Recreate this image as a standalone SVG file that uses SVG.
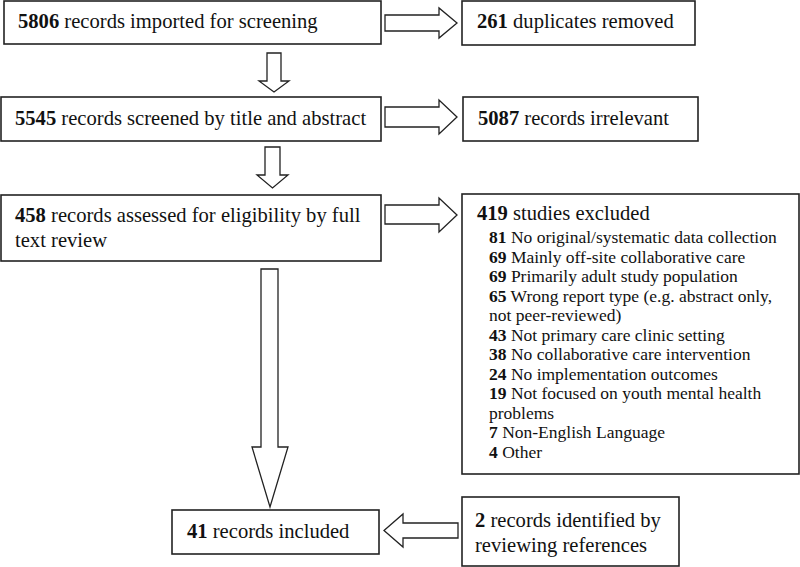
<svg xmlns="http://www.w3.org/2000/svg" width="800" height="567" viewBox="0 0 800 567">
<style>
.box{fill:#fff;stroke:#222;stroke-width:1.6}
.arr{fill:#fff;stroke:#222;stroke-width:1.3;stroke-linejoin:miter}
text{font-family:"Liberation Serif","Times New Roman",serif;fill:#111}
.t{font-size:20.6px}
.s{font-size:17.5px}
.b{font-weight:bold}
</style>
<rect width="800" height="567" fill="#fff"/>
<g id="connectors">
<polygon class="arr" points="267,53 281,53 281,81 289,81 274,92 259,81 267,81"/>
<polygon class="arr" points="265,147 280,147 280,175 288,175 272.5,188 257,175 265,175"/>
<polygon class="arr" points="261,269 278,269 278,447 288,447 270,507 252,447 261,447"/>
<polygon class="arr" points="385,15 439,15 439,8 457,23 439,38 439,31 385,31"/>
<polygon class="arr" points="385,107 439,107 439,100 457,117 439,134 439,127 385,127"/>
<polygon class="arr" points="385,205 439,205 439,198 457,215 439,232 439,224 385,224"/>
<polygon class="arr" points="458,523 403,523 403,514 384,530.5 403,547 403,538 458,538"/>
</g>
<g id="n1"><rect class="box" x="4" y="1" width="377" height="43"/><text class="t" x="18" y="28"><tspan class="b">5806</tspan> records imported for screening</text></g>
<g id="n2"><rect class="box" x="462" y="1" width="233" height="44"/><text class="t" x="477" y="28"><tspan class="b">261</tspan> duplicates removed</text></g>
<g id="n3"><rect class="box" x="1" y="97" width="380" height="44"/><text class="t" x="15" y="125"><tspan class="b">5545</tspan> records screened by title and abstract</text></g>
<g id="n4"><rect class="box" x="463" y="97" width="235" height="44"/><text class="t" x="478" y="125"><tspan class="b">5087</tspan> records irrelevant</text></g>
<g id="n5"><rect class="box" x="1" y="195" width="380" height="66"/><text class="t" x="15" y="222"><tspan class="b">458</tspan> records assessed for eligibility by full</text><text class="t" x="15" y="247">text review</text></g>
<g id="n6"><rect class="box" x="462" y="194" width="337" height="280"/>
<text class="t" x="477" y="220"><tspan class="b">419</tspan> studies excluded</text>
<text class="s" x="489" y="243"><tspan class="b">81</tspan> No original/systematic data collection</text>
<text class="s" x="489" y="262.5"><tspan class="b">69</tspan> Mainly off-site collaborative care</text>
<text class="s" x="489" y="282"><tspan class="b">69</tspan> Primarily adult study population</text>
<text class="s" x="489" y="301.5"><tspan class="b">65</tspan> Wrong report type (e.g. abstract only,</text>
<text class="s" x="489" y="321">not peer-reviewed)</text>
<text class="s" x="489" y="340.5"><tspan class="b">43</tspan> Not primary care clinic setting</text>
<text class="s" x="489" y="360"><tspan class="b">38</tspan> No collaborative care intervention</text>
<text class="s" x="489" y="379.5"><tspan class="b">24</tspan> No implementation outcomes</text>
<text class="s" x="489" y="399"><tspan class="b">19</tspan> Not focused on youth mental health</text>
<text class="s" x="489" y="418.5">problems</text>
<text class="s" x="489" y="438"><tspan class="b">7</tspan> Non-English Language</text>
<text class="s" x="489" y="457.5"><tspan class="b">4</tspan> Other</text>
</g>
<g id="n7"><rect class="box" x="172" y="510" width="207" height="44"/><text class="t" x="187" y="538"><tspan class="b">41</tspan> records included</text></g>
<g id="n8"><rect class="box" x="462" y="497" width="217" height="69"/><text class="t" x="475" y="527"><tspan class="b">2</tspan> records identified by</text><text class="t" x="475" y="552">reviewing references</text></g>
</svg>
